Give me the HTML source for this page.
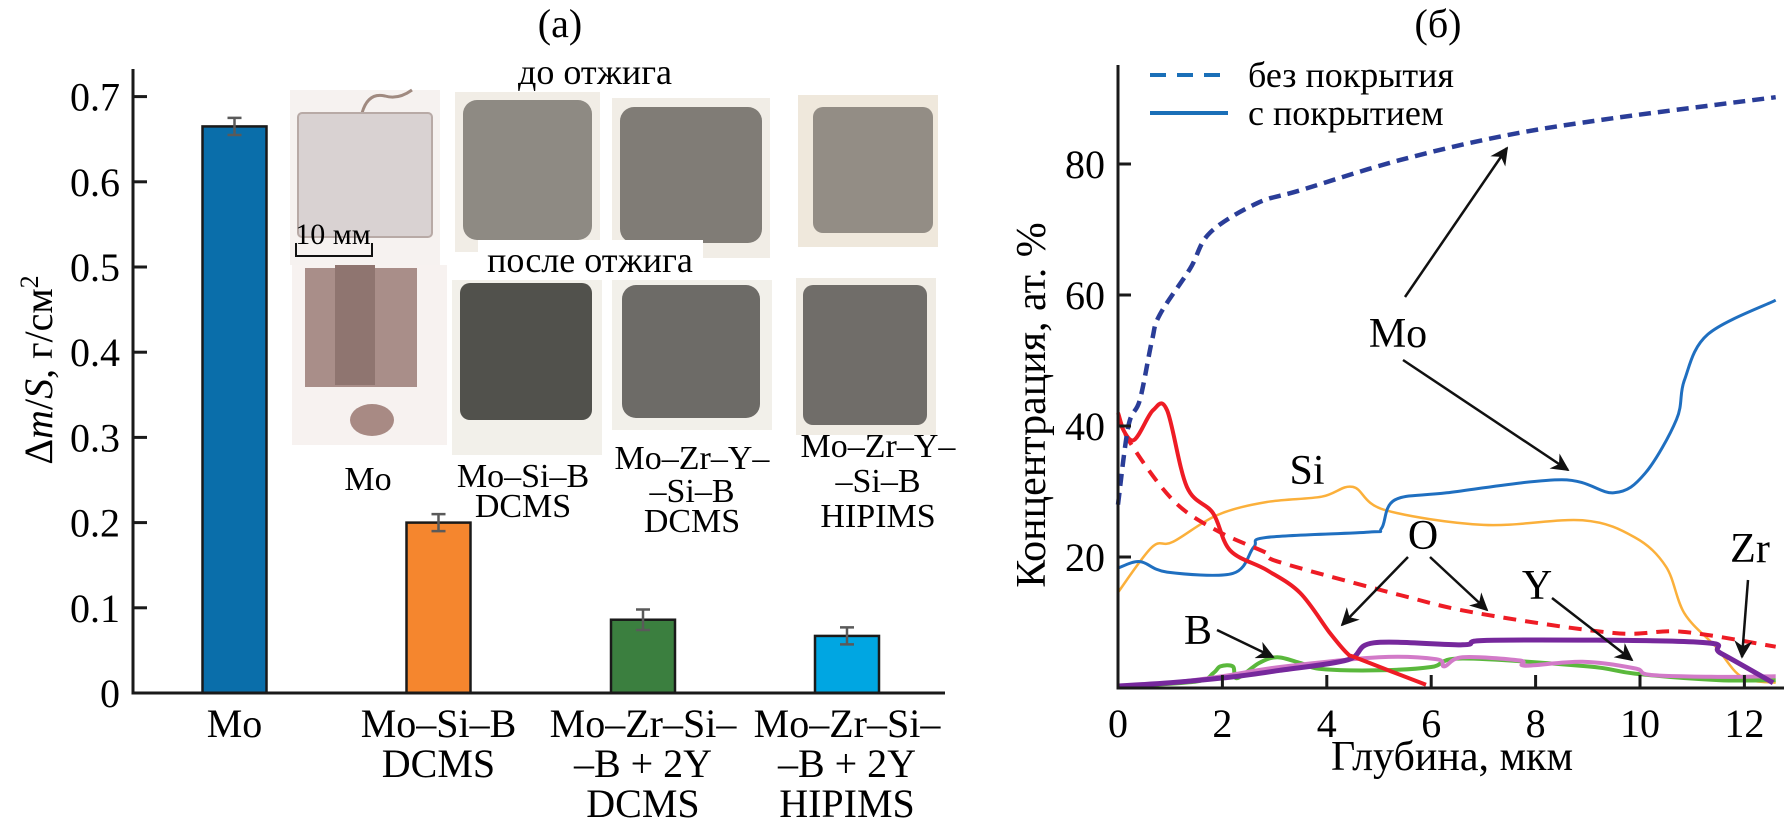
<!DOCTYPE html>
<html><head><meta charset="utf-8">
<style>
html,body{margin:0;padding:0;background:#fff;}
svg{display:block;font-family:"Liberation Serif","DejaVu Serif",serif;}
svg text{font-family:"Liberation Serif","DejaVu Serif",serif;}
</style></head>
<body>
<svg id="fig" width="1784" height="826" viewBox="0 0 1784 826" xmlns="http://www.w3.org/2000/svg" font-family="'Liberation Serif', 'DejaVu Serif', serif">
<defs>
<marker id="ah2" viewBox="0 0 10 10" refX="9" refY="5" markerWidth="24" markerHeight="18" orient="auto" markerUnits="userSpaceOnUse"><path d="M0,0 L10,5 L0,10 L3,5 z" fill="#111"/></marker>
</defs>

<g id="panelA">
<text x="560" y="37" font-size="40" text-anchor="middle">(а)</text>

<g>
  <rect x="290" y="90" width="150" height="175" fill="#f6f2f0"/>
  <path d="M362,113 Q368,92 385,96 Q398,100 412,90" fill="none" stroke="#a08a80" stroke-width="3"/>
  <rect x="298" y="113" width="134" height="124" rx="4" fill="#d9d2d2" stroke="#b8aaa6" stroke-width="2"/>
  <rect x="455" y="92" width="145" height="160" fill="#f1ede6"/>
  <rect x="463" y="100" width="129" height="140" rx="14" fill="#8e8a83"/>
  <rect x="612" y="98" width="158" height="160" fill="#f1ede6"/>
  <rect x="620" y="107" width="142" height="136" rx="14" fill="#807c76"/>
  <rect x="798" y="95" width="140" height="152" fill="#efe8dc"/>
  <rect x="813" y="107" width="120" height="126" rx="10" fill="#938d85"/>

  <text x="333" y="244" font-size="30" text-anchor="middle">10 мм</text>
  <path d="M296,243 V256 H372 V243" fill="none" stroke="#111" stroke-width="2"/>

  <text x="595" y="84" font-size="36" text-anchor="middle">до отжига</text>

  <rect x="292" y="265" width="155" height="180" fill="#f7f2f0"/>
  <rect x="305" y="268" width="112" height="119" fill="#a98e89"/>
  <rect x="335" y="265" width="40" height="120" fill="#8f7570"/>
  <ellipse cx="372" cy="420" rx="22" ry="16" fill="#a88a84"/>
  <rect x="452" y="280" width="150" height="175" fill="#f2f0ea"/>
  <rect x="460" y="283" width="132" height="137" rx="10" fill="#51514c"/>
  <rect x="612" y="280" width="160" height="150" fill="#f2f0ea"/>
  <rect x="622" y="285" width="138" height="133" rx="14" fill="#6d6b67"/>
  <rect x="796" y="278" width="140" height="157" fill="#f0ece4"/>
  <rect x="803" y="285" width="124" height="140" rx="10" fill="#706d69"/>

  <rect x="478" y="240" width="225" height="40" fill="#fff"/>
  <text x="590" y="272" font-size="36" text-anchor="middle">после отжига</text>

  <text x="368" y="490" font-size="34" text-anchor="middle">Mo</text>
  <text x="523" y="487" font-size="34" text-anchor="middle">Mo–Si–B</text>
  <text x="523" y="517" font-size="34" text-anchor="middle">DCMS</text>
  <text x="692" y="469" font-size="34" text-anchor="middle">Mo–Zr–Y–</text>
  <text x="692" y="502" font-size="34" text-anchor="middle">–Si–B</text>
  <text x="692" y="532" font-size="34" text-anchor="middle">DCMS</text>
  <text x="878" y="457" font-size="34" text-anchor="middle">Mo–Zr–Y–</text>
  <text x="878" y="492" font-size="34" text-anchor="middle">–Si–B</text>
  <text x="878" y="527" font-size="34" text-anchor="middle">HIPIMS</text>
</g>

<g id="aBars"></g>
<g id="aAxes"></g>
<text transform="translate(52,370) rotate(-90)" font-size="40" text-anchor="middle">Δ<tspan font-style="italic">m</tspan>/<tspan font-style="italic">S</tspan>, г/см<tspan baseline-shift="super" font-size="26">2</tspan></text>
</g>

<g id="panelB">
<text x="1438" y="37" font-size="40" text-anchor="middle">(б)</text>
<g id="bLines"></g>
<g id="bAxes"></g>
<text transform="translate(1045,405) rotate(-90)" font-size="42" text-anchor="middle">Концентрация, ат. %</text>
<text x="1452" y="770" font-size="42" text-anchor="middle">Глубина, мкм</text>

<g>
  <line x1="1150" y1="75" x2="1226" y2="75" stroke="#1a6fb8" stroke-width="4" stroke-dasharray="16,11"/>
  <text x="1248" y="87" font-size="36">без покрытия</text>
  <line x1="1150" y1="113" x2="1228" y2="113" stroke="#1a6fb8" stroke-width="4"/>
  <text x="1248" y="125" font-size="36">с покрытием</text>
</g>

<g font-size="42">
  <text x="1398" y="347" text-anchor="middle">Mo</text>
  <line x1="1405" y1="297" x2="1507" y2="148" stroke="#111" stroke-width="2.5" marker-end="url(#ah2)"/>
  <line x1="1403" y1="360" x2="1568" y2="470" stroke="#111" stroke-width="2.5" marker-end="url(#ah2)"/>
  <text x="1307" y="484" text-anchor="middle">Si</text>
  <text x="1423" y="549" text-anchor="middle">O</text>
  <line x1="1408" y1="557" x2="1342" y2="625" stroke="#111" stroke-width="2.5" marker-end="url(#ah2)"/>
  <line x1="1430" y1="557" x2="1487" y2="610" stroke="#111" stroke-width="2.5" marker-end="url(#ah2)"/>
  <text x="1537" y="599" text-anchor="middle">Y</text>
  <line x1="1552" y1="598" x2="1632" y2="660" stroke="#111" stroke-width="2.5" marker-end="url(#ah2)"/>
  <text x="1750" y="562" text-anchor="middle">Zr</text>
  <line x1="1748" y1="580" x2="1742" y2="657" stroke="#111" stroke-width="2.5" marker-end="url(#ah2)"/>
  <text x="1198" y="644" text-anchor="middle">B</text>
  <line x1="1217" y1="630" x2="1273" y2="657" stroke="#111" stroke-width="2.5" marker-end="url(#ah2)"/>
</g>
</g>
</svg>

<script>
const barCategories = ["Mo", "Mo–Si–B DCMS", "Mo–Zr–Si–B+2Y DCMS", "Mo–Zr–Si–B+2Y HIPIMS"];
const barValues = [0.665, 0.200, 0.086, 0.067];
const barErrors = [0.010, 0.010, 0.012, 0.010];
const barColors = ["#0a6eaa", "#f5862e", "#3b7f3f", "#00a6e2"];
const barLabelLines = [["Mo"], ["Mo–Si–B", "DCMS"], ["Mo–Zr–Si–", "–B + 2Y", "DCMS"], ["Mo–Zr–Si–", "–B + 2Y", "HIPIMS"]];
const leftTicks = [0, 0.1, 0.2, 0.3, 0.4, 0.5, 0.6, 0.7];
const leftTickLabels = ["0", "0.1", "0.2", "0.3", "0.4", "0.5", "0.6", "0.7"];

const moUncX = [0, 0.2, 0.42, 0.65, 0.8, 1.38, 1.76, 2.66, 3.5, 5.4, 7.45, 9.5, 12.6];
const moUncY = [28, 40, 44, 53, 57, 64, 69.5, 74, 76, 80.6, 84.4, 87, 90.2];
const oUncX = [0, 0.23, 1.05, 1.9, 2.85, 3.1, 5.4, 6.9, 9.5, 10.8, 12.6];
const oUncY = [42, 37.5, 28.7, 24, 20.6, 19.2, 14.2, 11.4, 8.4, 8.6, 6.3];
const oCoatX = [0, 0.29, 0.67, 0.94, 1.32, 1.82, 2.15, 2.85, 3.49, 4.06, 4.39, 4.6, 5.9];
const oCoatY = [41, 37.8, 42.4, 42.4, 30.7, 26.7, 21, 18, 14.5, 8.4, 5.3, 4.5, 0.5];
const moCoatX = [0, 0.42, 0.94, 2.2, 2.6, 2.85, 4.8, 5.05, 5.3, 6.3, 8.5, 9.5, 10.1, 10.7, 10.85, 11.3, 12.6];
const moCoatY = [18.3, 19.3, 17.7, 17.5, 21.5, 23, 23.8, 24.4, 28.7, 29.8, 31.8, 29.8, 32.8, 41, 47, 54, 59.2];
const siX = [0, 0.65, 1.05, 1.9, 2.85, 3.9, 4.5, 5.1, 7.0, 8.9, 9.9, 10.5, 10.85, 11.45, 11.95, 12.6];
const siY = [14.6, 21.5, 22.3, 26.4, 28.4, 29.2, 30.7, 27.2, 24.9, 25.6, 23, 18.5, 11.4, 6.3, 1.7, 0.8];
const bX = [0, 1.5, 1.83, 1.96, 2.2, 2.28, 2.7, 3.05, 3.5, 3.9, 5.0, 6.0, 6.6, 9.0, 9.9, 11.5, 12.6];
const bY = [0.2, 1.0, 2.3, 3.3, 3.3, 1.5, 3.8, 4.7, 3.8, 2.9, 2.7, 3.2, 4.5, 3.3, 2.2, 1.2, 1.2];
const zrX = [0, 1, 2, 3.1, 5.0, 6.1, 6.25, 6.6, 7.7, 7.8, 8.9, 9.9, 10.2, 11.5, 12.6];
const zrY = [0.2, 0.8, 1.8, 3.2, 4.7, 4.4, 3.3, 4.7, 4.2, 3.4, 4.0, 3.0, 2.0, 1.7, 1.8];
const yX = [0, 1, 2.2, 3.1, 4.4, 4.9, 6.6, 7.2, 11.1, 11.55, 12.55];
const yY = [0.3, 0.8, 1.7, 2.7, 4.3, 6.9, 6.6, 7.3, 7.0, 5.3, 0.8];
const rightYTicks = [20, 40, 60, 80];
const rightXTicks = [0, 2, 4, 6, 8, 10, 12];

const FONT = "'Liberation Serif', 'DejaVu Serif', serif";
const NS = "http://www.w3.org/2000/svg";
function mk(tag, attrs, parent) {
  const e = document.createElementNS(NS, tag);
  for (const k in attrs) e.setAttribute(k, attrs[k]);
  parent.appendChild(e);
  return e;
}

const aX0 = 133, aBase = 693, aPxPer = 852, aRight = 945;
const barCenters = [234.5, 438.5, 643, 847];
const barW = 64;
function ay(v) { return aBase - v * aPxPer; }

const bars = document.getElementById("aBars");
barValues.forEach((v, i) => {
  const r = mk("rect", {x: barCenters[i] - barW / 2, y: ay(v), width: barW, height: ay(0) - ay(v), fill: barColors[i], stroke: "#1a1a1a", "stroke-width": 2.5}, bars);
  
  
  const e = barErrors[i], cx = barCenters[i];
  const eb = mk("path", {d: `M${cx},${ay(v + e)} V${ay(v - e)} M${cx - 7},${ay(v + e)} H${cx + 7} M${cx - 7},${ay(v - e)} H${cx + 7}`, stroke: "#5a5a5a", "stroke-width": 2.5, fill: "none"}, bars);
  
  
  barLabelLines[i].forEach((ln, j) => {
    const t = mk("text", {x: cx, y: 737 + j * 40, "font-size": 40, "text-anchor": "middle", "font-family": FONT}, bars);
    t.textContent = ln;
    
    
  });
});

const aAx = document.getElementById("aAxes");
const aAxis = mk("path", {d: `M${aX0},69 V${aBase} H${aRight}`, stroke: "#1a1a1a", "stroke-width": 3, fill: "none"}, aAx);


leftTicks.forEach((v, i) => {
  const tk = mk("line", {x1: aX0, x2: aX0 + 14, y1: ay(v), y2: ay(v), stroke: "#1a1a1a", "stroke-width": 3}, aAx);
  
  
  const t = mk("text", {x: 120, y: ay(v) + 14, "font-size": 40, "text-anchor": "end", "font-family": FONT}, aAx);
  t.textContent = leftTickLabels[i];
  
  
});

const bX0 = 1118, bPxX = 52.2, bY0 = 688, bPxY = 6.55;
function bx(v) { return bX0 + v * bPxX; }
function by(v) { return bY0 - v * bPxY; }

function smoothPath(xs, ys) {
  const P = xs.map((x, i) => [bx(x), by(ys[i])]);
  let d = "M" + P[0][0].toFixed(1) + "," + P[0][1].toFixed(1);
  for (let i = 0; i < P.length - 1; i++) {
    const p0 = P[i - 1] || P[i], p1 = P[i], p2 = P[i + 1], p3 = P[i + 2] || P[i + 1];
    const c1 = [p1[0] + (p2[0] - p0[0]) / 6, p1[1] + (p2[1] - p0[1]) / 6];
    const c2 = [p2[0] - (p3[0] - p1[0]) / 6, p2[1] - (p3[1] - p1[1]) / 6];
    d += ` C${c1[0].toFixed(1)},${c1[1].toFixed(1)} ${c2[0].toFixed(1)},${c2[1].toFixed(1)} ${p2[0].toFixed(1)},${p2[1].toFixed(1)}`;
  }
  return d;
}

const bL = document.getElementById("bLines");
function series(xs, ys, color, w, dash, name) {
  const a = {d: smoothPath(xs, ys), fill: "none", stroke: color, "stroke-width": w, "stroke-linejoin": "round"};
  if (dash) a["stroke-dasharray"] = dash;
  const p = mk("path", a, bL);
  
  
}
series(siX, siY, "#fbb03b", 2.5, null, "line-si-coated");
series(moCoatX, moCoatY, "#1f6fc0", 3, null, "line-mo-coated");
series(bX, bY, "#5ab83c", 4, null, "line-b-coated");
series(zrX, zrY, "#d27ac8", 4, null, "line-zr-coated");
series(yX, yY, "#76289c", 5, null, "line-y-coated");
series(oCoatX, oCoatY, "#ee1c25", 4, null, "line-o-coated");
series(oUncX, oUncY, "#ee1c25", 4, "13,9", "line-o-uncoated");
series(moUncX, moUncY, "#2a3d98", 4.5, "12,7", "line-mo-uncoated");

const bAx = document.getElementById("bAxes");
const bAxis = mk("path", {d: `M${bX0},65 V${bY0} H1784`, stroke: "#1a1a1a", "stroke-width": 3, fill: "none"}, bAx);


rightYTicks.forEach(v => {
  const tk = mk("line", {x1: bX0, x2: bX0 + 13, y1: by(v), y2: by(v), stroke: "#1a1a1a", "stroke-width": 3}, bAx);
  
  
  const t = mk("text", {x: 1105, y: by(v) + 14, "font-size": 40, "text-anchor": "end", "font-family": FONT}, bAx);
  t.textContent = String(v);
  
  
});
rightXTicks.forEach(v => {
  if (v > 0) {
    const tk = mk("line", {x1: bx(v), x2: bx(v), y1: bY0, y2: bY0 - 13, stroke: "#1a1a1a", "stroke-width": 3}, bAx);
    
    
  }
  const t = mk("text", {x: bx(v), y: 737, "font-size": 40, "text-anchor": "middle", "font-family": FONT}, bAx);
  t.textContent = String(v);
  
  
});
</script>
</body></html>
